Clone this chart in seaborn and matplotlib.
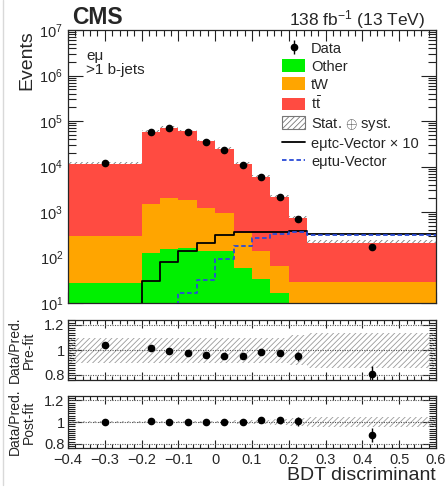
import numpy as np
import pandas as pd
import matplotlib
matplotlib.use("Agg")
import matplotlib.pyplot as plt
import seaborn as sns
from matplotlib.patches import Patch
from matplotlib.lines import Line2D
from matplotlib.ticker import MultipleLocator, LogLocator, NullFormatter, FixedLocator

# ---- binning -------------------------------------------------------------
edges = [-0.4, -0.2, -0.15, -0.1, -0.05, 0.0, 0.05, 0.1, 0.15, 0.2, 0.25, 0.6]
centers = [-0.3, -0.175, -0.125, -0.075, -0.025, 0.025, 0.075, 0.125, 0.175, 0.225, 0.425]

# ---- event yields per bin ------------------------------------------------
other = [27, 128, 157, 160, 140, 140, 60, 34, 17, 6, 5]
tw = [273, 1352, 1843, 1690, 1060, 810, 280, 108, 49, 23, 24]
ttbar = [11200, 55020, 69500, 57150, 34300, 23550, 11260, 5808, 2114, 701, 179]
data = [12000, 57500, 70800, 57800, 34100, 23400, 11050, 5860, 2130, 694, 168]

# signal templates (tc drawn scaled by 10)
tc_vector = [0.4, 3.05, 7.9, 14.1, 21.2, 31.5, 35.5, 36.0, 36.0, 38.0, 33.6]
tu_vector = [1.5, 3.5, 6.5, 17, 32, 93, 182, 265, 325, 370, 314]
tc_scale = 10

# relative uncertainty of the prediction
unc_prefit = [0.10, 0.10, 0.10, 0.10, 0.10, 0.10, 0.10, 0.10, 0.10, 0.12, 0.14]
unc_postfit = [0.01, 0.01, 0.01, 0.01, 0.01, 0.01, 0.015, 0.02, 0.03, 0.04, 0.05]
ratio_postfit = [1.0, 1.005, 0.996, 0.996, 0.996, 1.0, 1.0, 1.02, 1.02, 1.005, 0.88]

proc_names = ["Other", "tW", r"t$\bar{\mathrm{t}}$"]
proc_colors = ["#00f000", "#ffa500", "#ff4b41"]

# ---- style ---------------------------------------------------------------
sns.set_style("ticks")
plt.rcParams["font.family"] = ["Liberation Sans", "DejaVu Sans"]
plt.rcParams["mathtext.fontset"] = "custom"
plt.rcParams["mathtext.rm"] = "Liberation Sans"
plt.rcParams["mathtext.it"] = "Liberation Sans:italic"
plt.rcParams["mathtext.bf"] = "Liberation Sans:bold"
plt.rcParams["hatch.linewidth"] = 0.6
plt.rcParams["axes.linewidth"] = 0.9

W, H = 448, 487
fig = plt.figure(figsize=(W / 100, H / 100), dpi=100)


def px_axes(left, top, right, bottom):
    return fig.add_axes([left / W, 1 - bottom / H, (right - left) / W, (bottom - top) / H])


ax = px_axes(68, 30, 436, 303)
ax_pre = px_axes(68, 320, 436, 380)
ax_post = px_axes(68, 396, 436, 448)

# thin page frame line on the left
fig.add_artist(Line2D([3 / W, 3 / W], [1 - 485 / H, 1.0], transform=fig.transFigure,
                      color="#d9d9d9", lw=1))

centers_a = np.array(centers)
data_a = np.array(data, dtype=float)
total = np.array(other) + np.array(tw) + np.array(ttbar)

# ---- stacked backgrounds (first hue level ends up on top of the stack) ---
stack_order = proc_names[::-1]
stack_colors = proc_colors[::-1]
bkg = pd.DataFrame({
    "bdt": np.tile(centers, 3),
    "events": np.concatenate([other, tw, ttbar]).astype(float),
    "process": np.repeat(proc_names, len(centers)),
})
sns.histplot(data=bkg, x="bdt", weights="events", hue="process",
             hue_order=stack_order, palette=stack_colors, bins=edges,
             multiple="stack", element="step", fill=True, alpha=1,
             linewidth=0, legend=False, ax=ax, zorder=2)
ax.set_yscale("log")

# uncertainty band on total prediction
unc_a = np.array(unc_prefit)
ax.stairs(total * (1 + unc_a), edges, baseline=total * (1 - unc_a), fill=True,
          facecolor="none", edgecolor="#777777", hatch="//////", linewidth=0, zorder=1)

# signals
tc_y = np.array(tc_vector) * tc_scale
sns.lineplot(x=edges, y=np.append(tc_y, tc_y[-1]), drawstyle="steps-post",
             color="black", linewidth=1.3, estimator=None, ax=ax, zorder=4)
tu_y = np.array(tu_vector, dtype=float)
sns.lineplot(x=edges, y=np.append(tu_y, tu_y[-1]), drawstyle="steps-post",
             color="#2a4bd7", linewidth=1.3, linestyle=(0, (2.5, 1.5)),
             estimator=None, ax=ax, zorder=4)

# data
data_err = ax.errorbar(centers_a, data_a, yerr=np.sqrt(data_a), fmt="o", color="black",
                       ms=4.5, elinewidth=1, capsize=0, zorder=5)

ax.set_xlim(-0.4, 0.6)
ax.set_ylim(10, 1e7)
ax.set_xlabel("")
ax.set_ylabel("Events", fontsize=14, loc="top")
ax.yaxis.set_label_coords(-0.088, 1.0)
ax.tick_params(labelbottom=False)

# legend
handles = [
    data_err,
    Patch(facecolor=proc_colors[0], edgecolor="none"),
    Patch(facecolor=proc_colors[1], edgecolor="none"),
    Patch(facecolor=proc_colors[2], edgecolor="none"),
    Patch(facecolor="white", edgecolor="#777777", hatch="//////", linewidth=0.8),
    Line2D([], [], color="black", lw=1.3),
    Line2D([], [], color="#2a4bd7", lw=1.3, ls=(0, (2.5, 1.5))),
]
labels = ["Data", "Other", "tW", r"t$\bar{\mathrm{t}}$", r"Stat. $\oplus$ syst.",
          "eμtc-Vector × 10", "eμtu-Vector"]
ax.legend(handles, labels, loc="upper left", bbox_to_anchor=(0.5815, 0.958),
          frameon=False, fontsize=10.5, handlelength=1.6, handleheight=0.95,
          handletextpad=0.4, labelspacing=0.25, borderpad=0, borderaxespad=0)

ax.text(0.049, 0.89, "eμ", transform=ax.transAxes, fontsize=11, va="baseline")
ax.text(0.049, 0.838, ">1 b-jets", transform=ax.transAxes, fontsize=11, va="baseline")

fig.text(72 / W, 1 - 23.5 / H, "CMS", fontsize=16.5, fontweight="bold", va="baseline")
fig.text(425 / W, 1 - 25 / H, r"138 fb$^{-1}$ (13 TeV)", fontsize=12.5, ha="right", va="baseline")

# ---- ratio panels --------------------------------------------------------
ratio_prefit = data_a / total
ratio_post = np.array(ratio_postfit)
unc_post_a = np.array(unc_postfit)

for rax, ratio, unc in [(ax_pre, ratio_prefit, unc_a), (ax_post, ratio_post, unc_post_a)]:
    rax.stairs(1 + unc, edges, baseline=1 - unc, fill=True, facecolor="none",
               edgecolor="#9a9a9a", hatch="//////", linewidth=0, zorder=1)
    for yl in (0.8, 1.0, 1.2):
        rax.axhline(yl, color="#555555", lw=0.8, ls=(0, (1, 1.2)), zorder=2)
    rax.errorbar(centers_a, ratio, yerr=ratio / np.sqrt(data_a), fmt="o", color="black",
                 ms=4.5, elinewidth=1, capsize=0, zorder=5)
    rax.set_xlim(-0.4, 0.6)
    rax.set_ylim(0.76, 1.24)
    rax.yaxis.set_major_locator(FixedLocator([0.8, 1.0, 1.2]))
    rax.yaxis.set_minor_locator(MultipleLocator(0.02))
    rax.set_yticklabels(["0.8", "1", "1.2"])

ax_pre.tick_params(labelbottom=False)
ax_pre.set_ylabel("Data/Pred.\nPre-fit", fontsize=10, linespacing=1.0)
ax_post.set_ylabel("Data/Pred.\nPost-fit", fontsize=10, linespacing=1.0)
ax_pre.yaxis.set_label_coords(-0.086, 0.5)
ax_post.yaxis.set_label_coords(-0.086, 0.5)
ax_post.set_xlabel("BDT discriminant", fontsize=14, loc="right")
ax_post.xaxis.set_label_coords(1.0, -0.36)
ax_post.set_xticks([-0.4, -0.3, -0.2, -0.1, 0, 0.1, 0.2, 0.3, 0.4, 0.5, 0.6])
ax_post.set_xticklabels(["\u22120.4", "\u22120.3", "\u22120.2", "\u22120.1", "0",
                         "0.1", "0.2", "0.3", "0.4", "0.5", "0.6"])

# ---- ticks ---------------------------------------------------------------
for a in (ax, ax_pre, ax_post):
    if a is not ax_post:
        a.xaxis.set_major_locator(MultipleLocator(0.1))
    a.xaxis.set_minor_locator(MultipleLocator(0.02))
    a.tick_params(which="both", direction="in", top=True, right=True, labelsize=10.5,
                  width=0.8, color="#222222")
    a.tick_params(which="major", length=8)
    a.tick_params(which="minor", length=4)
    for s in a.spines.values():
        s.set_visible(True)
        s.set_zorder(6)

ax.yaxis.set_major_locator(LogLocator(base=10, numticks=10))
ax.yaxis.set_minor_locator(LogLocator(base=10, subs=np.arange(2, 10), numticks=20))
ax.yaxis.set_minor_formatter(NullFormatter())
ax.tick_params(axis="y", which="major", length=11)
ax.tick_params(axis="y", which="minor", length=6)
for rax in (ax_pre, ax_post):
    rax.tick_params(axis="y", which="major", length=10, pad=2.5)
    rax.tick_params(axis="y", which="minor", length=5)
    rax.tick_params(axis="x", which="major", length=6)
    rax.tick_params(axis="x", which="minor", length=3)

fig.savefig("out.png", dpi=100)
